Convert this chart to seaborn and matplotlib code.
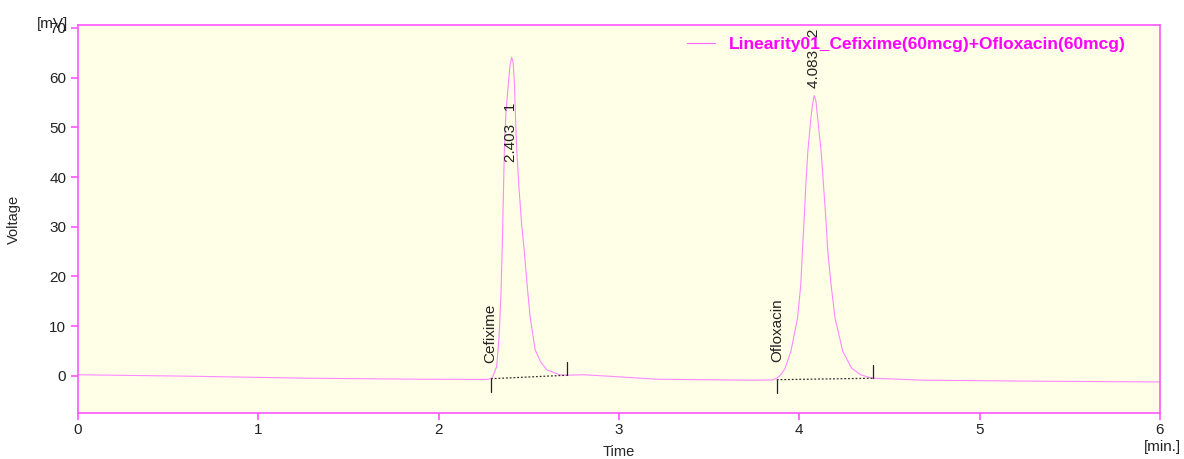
import numpy as np
import pandas as pd
import matplotlib
matplotlib.use("Agg")
import matplotlib.pyplot as plt
import seaborn as sns

# Chromatogram trace (time in min, signal in mV)
time_min = [0.0, 0.63, 1.27, 1.90, 2.26, 2.29, 2.30, 2.322, 2.335, 2.345, 2.352,
            2.358, 2.364, 2.373, 2.387, 2.396, 2.405, 2.413, 2.42, 2.426, 2.433,
            2.445, 2.46, 2.474, 2.49, 2.507, 2.535, 2.565, 2.60, 2.67, 2.71, 2.80,
            2.90, 3.21, 3.74, 3.85, 3.875, 3.90, 3.921, 3.953, 3.99, 4.008, 4.017,
            4.027, 4.036, 4.047, 4.064, 4.074, 4.082, 4.092, 4.102, 4.121, 4.134,
            4.147, 4.158, 4.176, 4.198, 4.241, 4.29, 4.34, 4.393, 4.41, 4.69, 5.33, 6.0]
signal_mv = [0.2, -0.1, -0.5, -0.7, -0.75, -0.6, -0.2, 1.9, 8.0, 16.0, 25.0,
             35.0, 45.0, 53.0, 59.0, 62.5, 64.1, 63.0, 59.0, 52.0, 45.5,
             38.0, 30.5, 25.4, 18.5, 11.9, 5.2, 2.8, 1.2, 0.2, 0.1, 0.2,
             0.0, -0.7, -0.9, -0.85, -0.5, 0.3, 1.5, 4.9, 11.6, 18.3, 25.0,
             31.7, 38.4, 45.1, 51.8, 54.8, 56.4, 55.3, 51.8, 45.1, 38.4,
             31.7, 25.0, 18.3, 11.6, 4.9, 1.5, 0.2, -0.4, -0.5, -0.9, -1.1, -1.25]

# Peaks: names, retention times, numbers, integration limits
peak_names = ["Cefixime", "Ofloxacin"]
peak_rt = ["2.403", "4.083"]
peak_no = ["1", "2"]
peak_start = [2.29, 3.875]
peak_start_mv = [-0.6, -0.8]
peak_end = [2.71, 4.41]
peak_end_mv = [0.1, -0.5]

sample_name = "Linearity01_Cefixime(60mcg)+Ofloxacin(60mcg)"

sns.set_theme(style="ticks")
plt.rcParams['font.family'] = ['Liberation Sans', 'DejaVu Sans']

df = pd.DataFrame({"Time": time_min, "Voltage": signal_mv})

fig = plt.figure(figsize=(11.84, 4.59), dpi=100)
ax = fig.add_axes([78 / 1184, 46 / 459, 1082 / 1184, 388 / 459])
ax.set_facecolor("#FFFFE8")

sns.lineplot(data=df, x="Time", y="Voltage", ax=ax, color="#FF88FF", linewidth=0.8,
             label=sample_name)

# integration baselines and limit marks
for s, sv, e, ev in zip(peak_start, peak_start_mv, peak_end, peak_end_mv):
    ax.plot([s, e], [sv, ev], color="#333333", linestyle=(0, (1.5, 1.5)), linewidth=0.9)
    ax.plot([s, s], [sv, sv - 2.6], color="#222222", linewidth=0.9)
    ax.plot([e, e], [ev, ev + 2.6], color="#222222", linewidth=0.9)

# peak labels
ax.text(2.403, 43, peak_rt[0] + "   " + peak_no[0], rotation=90, ha="center", va="bottom",
        fontsize=11, color="#222222")
ax.text(4.083, 58, peak_rt[1] + "   " + peak_no[1], rotation=90, ha="center", va="bottom",
        fontsize=11, color="#222222")
ax.text(2.285, 2.6, peak_names[0], rotation=90, ha="center", va="bottom",
        fontsize=11, color="#222222")
ax.text(3.875, 2.8, peak_names[1], rotation=90, ha="center", va="bottom",
        fontsize=11, color="#222222")

ax.set_xlim(0, 6)
ax.set_ylim(-7.5, 70.6)
ax.set_xticks(range(0, 7))
ax.set_yticks(range(0, 71, 10))
for sp in ax.spines.values():
    sp.set_visible(True)
    sp.set_color("#FF55FF")
    sp.set_linewidth(1.2)
ax.tick_params(axis="both", colors="#FF55FF", labelcolor="#222222", labelsize=11,
               length=5, width=1.2, direction="out")
ax.tick_params(axis="x", pad=2)
ax.set_xlabel("Time", fontsize=10.5, labelpad=6)
ax.set_ylabel("Voltage", fontsize=10.5, labelpad=20)
ax.text(-0.009, 0.985, "[mV]", transform=ax.transAxes, ha="right", va="bottom", fontsize=11,
        color="#222222")
ax.text(1181 / 1184, 1 - 447 / 459, "[min.]", transform=fig.transFigure, ha="right",
        va="center", fontsize=11, color="#222222")

leg = ax.legend(loc="upper right", frameon=False, prop={"weight": "bold", "size": 12.5},
                handlelength=1.6, bbox_to_anchor=(0.983, 1.01))
for txt in leg.get_texts():
    txt.set_color("#FF00FF")
for h in leg.get_lines():
    h.set_color("#FF66FF")

fig.savefig("out.png", dpi=100)
